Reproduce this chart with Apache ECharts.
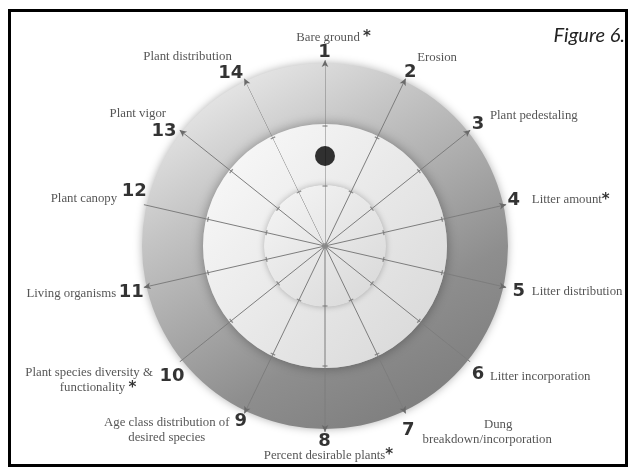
<!DOCTYPE html>
<html>
<head>
<meta charset="utf-8">
<style>
  html, body { margin: 0; padding: 0; background: #fff; }
  #chart { width: 632px; height: 469px; }
</style>
<script src="https://cdn.jsdelivr.net/npm/echarts@6/dist/echarts.min.js"></script>
</head>
<body>
<div id="chart"></div>
<script>
// rating criteria (spokes), clockwise from the top
const criteria = ['1', '2', '3', '4', '5', '6', '7', '8', '9', '10', '11', '12', '13', '14'];
const criteriaNames = [
  'Bare ground *',
  'Erosion',
  'Plant pedestaling',
  'Litter amount*',
  'Litter distribution',
  'Litter incorporation',
  'Dung\nbreakdown/incorporation',
  'Percent desirable plants*',
  'Age class distribution of\ndesired species',
  'Plant species diversity &\nfunctionality *',
  'Living organisms',
  'Plant canopy',
  'Plant vigor',
  'Plant distribution'
];
// shaded zones, outermost first
const zones = ['Outer', 'Middle', 'Inner'];
const zoneSweep = [360, 360, 360];
// zone boundaries marked on every spoke, and spoke length
const spokeTicks = [1, 2];
const spokeMax = 3.1;
// the single rating dot
const markCriterion = '1';
const markValue = 1.5;

const CX = 325, CY = 246;
const step = 360 / criteria.length;

// label placement relative to spoke tip: [dx, dy]
const numOffset = [
  [0, -7], [5, -6], [8, -5], [8, -4], [13, 4], [8, 13], [3, 17],
  [0, 10], [-3, 8], [-7, 15], [-12, 5], [-9, -13], [-15, 2], [-13, -5]
];
// [dx, dy, align, padding of first line, padding of second line]
const nameOffset = [
  [9, -22, 'center'],
  [12, -20, 'left'],
  [20, -14, 'left'],
  [26, -4, 'left'],
  [26, 5, 'left'],
  [20, 15, 'left'],
  [82, 19, 'center', 22, 0],
  [4, 24, 'center'],
  [-77, 17, 'center'],
  [-90, 19, 'center', 0, 18],
  [-27, 7, 'right'],
  [-26, -5, 'right'],
  [-13, -16, 'right'],
  [-12, -21, 'right']
];

function nameText(name, i) {
  const lay = nameOffset[i];
  return name.split('\n').map(function (line, k) {
    const pad = lay[3 + k] ? 'p' + lay[3 + k] : 't';
    return line.split('*').map(function (part) {
      return part ? '{' + pad + '|' + part + '}' : '';
    }).join('{s|*}');
  }).join('\n');
}

const chart = echarts.init(document.getElementById('chart'));

const spokeSeries = criteria.map(function (c, i) {
  return {
    type: 'line',
    coordinateSystem: 'polar',
    polarIndex: 1,
    silent: true,
    z: 3,
    lineStyle: { color: '#7d7d7d', width: 1 },
    itemStyle: { color: '#6a6a6a' },
    data: [
      { value: [0, c], symbol: 'none' },
      { value: [spokeMax, c], symbol: 'arrow', symbolSize: [5, 7], symbolRotate: -i * step }
    ]
  };
});

const tickData = [];
criteria.forEach(function (c, i) {
  spokeTicks.forEach(function (v) {
    tickData.push({ value: [v, c], symbolRotate: -i * step });
  });
});

const textBase = { fontFamily: 'Liberation Serif', fontSize: 12.8, color: '#2a2a2a', lineHeight: 15 };

const option = {
  backgroundColor: '#fff',
  animation: false,
  polar: [
    { center: [CX, CY], radius: 183 },
    { center: [CX, CY], radius: 186 }
  ],
  angleAxis: [
    { polarIndex: 0, type: 'value', min: 0, max: 360, startAngle: 90, show: false },
    {
      polarIndex: 1, type: 'category', data: criteria, boundaryGap: false,
      startAngle: 90, clockwise: true,
      axisLine: { show: false }, axisTick: { show: false },
      axisLabel: { show: false }, splitLine: { show: false }
    }
  ],
  radiusAxis: [
    { polarIndex: 0, type: 'category', data: zones, inverse: true, show: false },
    {
      polarIndex: 1, type: 'value', min: 0, max: spokeMax,
      axisLine: { show: false }, axisTick: { show: false },
      axisLabel: { show: false }, splitLine: { show: false }
    }
  ],
  graphic: [
    {
      type: 'rect', silent: true, z: 100,
      shape: { x: 9.5, y: 10.5, width: 617, height: 455 },
      style: { fill: 'none', stroke: '#000', lineWidth: 3 }
    },
    {
      type: 'text', x: 625, y: 36, z: 100,
      style: { text: 'Figure 6.', fill: '#222', font: 'italic 20px Lato', align: 'right', verticalAlign: 'middle' }
    }
  ],
  series: [
    {
      type: 'bar',
      coordinateSystem: 'polar',
      polarIndex: 0,
      silent: true,
      barCategoryGap: '0%',
      z: 1,
      data: zoneSweep.map(function (v, k) {
        const styles = [
          {
            color: { type: 'linear', global: true, x: 234, y: 89, x2: 416, y2: 403,
              colorStops: [
                { offset: 0, color: '#e2e2e2' }, { offset: 0.25, color: '#c4c4c4' },
                { offset: 0.75, color: '#8e8e8e' }, { offset: 1, color: '#808080' }
              ] },
            shadowBlur: 8, shadowColor: 'rgba(0,0,0,0.3)'
          },
          {
            color: { type: 'linear', global: true, x: 220, y: 150, x2: 440, y2: 350,
              colorStops: [{ offset: 0, color: '#f8f8f8' }, { offset: 1, color: '#d8d8d8' }] },
            shadowBlur: 12, shadowColor: 'rgba(0,0,0,0.35)'
          },
          {
            color: { type: 'linear', global: true, x: 280, y: 200, x2: 370, y2: 300,
              colorStops: [{ offset: 0, color: '#f2f2f2' }, { offset: 1, color: '#dadada' }] },
            shadowBlur: 6, shadowColor: 'rgba(0,0,0,0.25)'
          }
        ];
        return { value: v, itemStyle: styles[k] };
      })
    }
  ].concat(spokeSeries).concat([
    {
      type: 'scatter',
      coordinateSystem: 'polar',
      polarIndex: 1,
      silent: true,
      z: 4,
      symbol: 'rect',
      symbolSize: [5, 1.3],
      itemStyle: { color: '#777' },
      data: tickData
    },
    {
      type: 'scatter',
      coordinateSystem: 'polar',
      polarIndex: 1,
      silent: true,
      z: 4,
      symbolSize: 6,
      itemStyle: { color: '#8a8a8a' },
      data: [[0, criteria[0]]]
    },
    {
      type: 'scatter',
      coordinateSystem: 'polar',
      polarIndex: 1,
      silent: true,
      z: 5,
      symbolSize: 20,
      itemStyle: { color: '#000' },
      data: [[markValue, markCriterion]]
    },
    {
      // spoke numbers
      type: 'scatter',
      coordinateSystem: 'polar',
      polarIndex: 1,
      silent: true,
      z: 6,
      symbolSize: 1,
      itemStyle: { color: 'rgba(0,0,0,0)' },
      data: criteria.map(function (c, i) {
        return {
          value: [spokeMax, c],
          label: {
            show: true, formatter: c,
            position: numOffset[i], align: 'center', verticalAlign: 'middle',
            fontFamily: 'DejaVu Sans', fontWeight: 'bold', fontSize: 18, color: '#000'
          }
        };
      })
    },
    {
      // criterion names
      type: 'scatter',
      coordinateSystem: 'polar',
      polarIndex: 1,
      silent: true,
      z: 6,
      symbolSize: 1,
      itemStyle: { color: 'rgba(0,0,0,0)' },
      data: criteria.map(function (c, i) {
        return {
          value: [spokeMax, c],
          label: {
            show: true,
            formatter: nameText(criteriaNames[i], i),
            position: [nameOffset[i][0], nameOffset[i][1]],
            align: nameOffset[i][2], verticalAlign: 'middle',
            rich: {
              t: textBase,
              p18: Object.assign({ padding: [0, 0, 0, 18] }, textBase),
              p22: Object.assign({ padding: [0, 0, 0, 22] }, textBase),
              s: { fontFamily: 'DejaVu Sans', fontWeight: 'bold', fontSize: 15, color: '#000', lineHeight: 15 }
            }
          }
        };
      })
    }
  ])
};

chart.setOption(option);
</script>
</body>
</html>
